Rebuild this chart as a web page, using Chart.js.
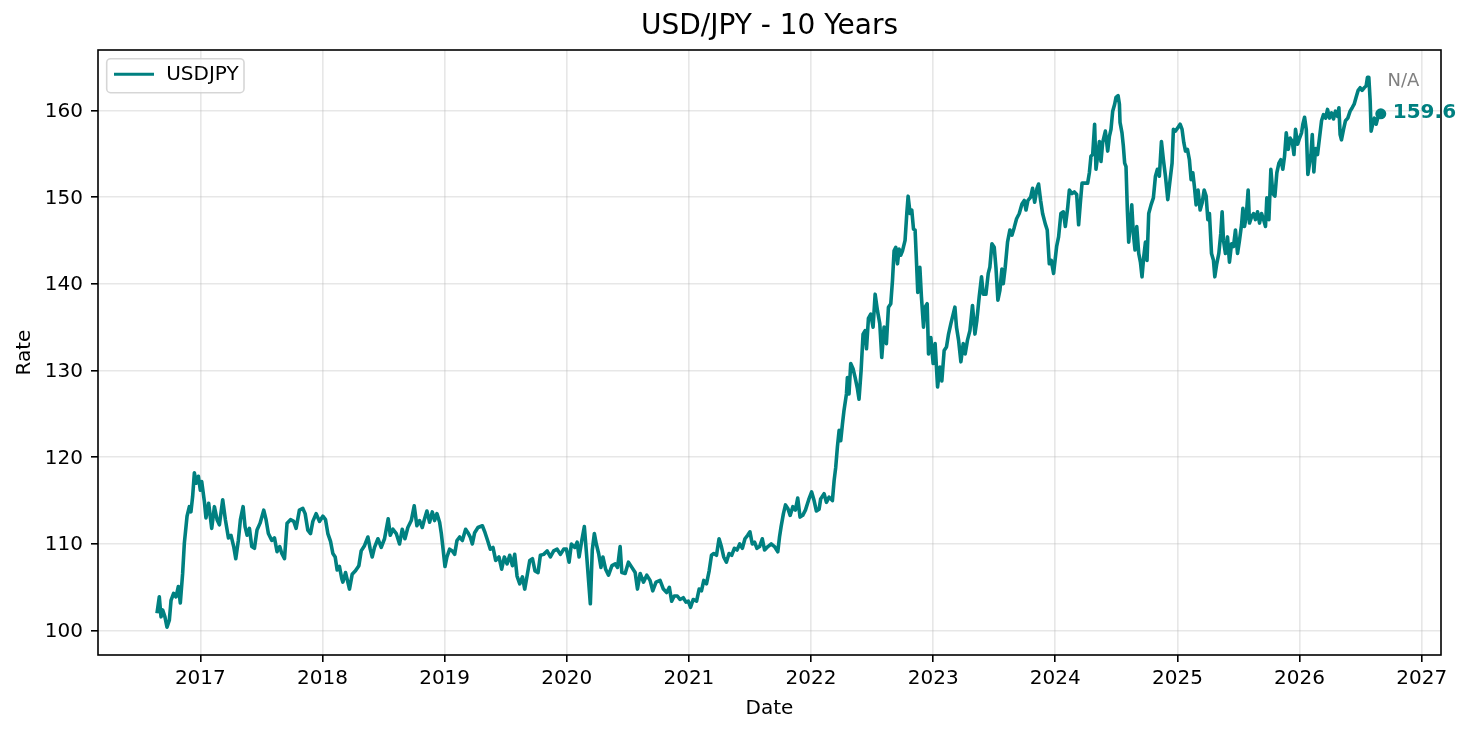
<!DOCTYPE html>
<html>
<head>
<meta charset="utf-8">
<title>USD/JPY - 10 Years</title>
<script src="https://cdn.jsdelivr.net/npm/chart.js@4.4.1/dist/chart.umd.min.js"></script>
<style>
  html, body { margin: 0; padding: 0; background: #fff; }
  #wrap { width: 1475px; height: 735px; }
</style>
</head>
<body>
<div id="wrap"><canvas id="chart" width="1475" height="735"></canvas></div>
<script>
// Rate samples (date as decimal year)
const dateYears = [
  2016.645, 2016.664, 2016.678, 2016.691, 2016.710, 2016.727, 2016.746, 2016.760, 2016.781, 2016.801,
  2016.820, 2016.836, 2016.855, 2016.869, 2016.891, 2016.910, 2016.923, 2016.937, 2016.951, 2016.967, 2016.984,
  2017.000, 2017.011, 2017.033, 2017.046, 2017.068, 2017.093, 2017.115, 2017.137, 2017.156, 2017.183,
  2017.205, 2017.230, 2017.251, 2017.273, 2017.290, 2017.311, 2017.328, 2017.350, 2017.366, 2017.383,
  2017.402, 2017.421, 2017.443, 2017.464, 2017.489, 2017.519, 2017.538, 2017.557, 2017.585, 2017.607,
  2017.628, 2017.650, 2017.667, 2017.689, 2017.710, 2017.738, 2017.765, 2017.784, 2017.811, 2017.839,
  2017.858, 2017.880, 2017.902, 2017.921, 2017.948, 2017.975,
  2018.003, 2018.025, 2018.044, 2018.066, 2018.085, 2018.104, 2018.120, 2018.139, 2018.158, 2018.167,
  2018.189, 2018.221, 2018.243, 2018.270, 2018.298, 2018.317, 2018.344, 2018.372, 2018.391, 2018.407,
  2018.426, 2018.454, 2018.481, 2018.508, 2018.538, 2018.555, 2018.577, 2018.604, 2018.631, 2018.653,
  2018.675, 2018.699, 2018.727, 2018.751, 2018.773, 2018.795, 2018.817, 2018.836, 2018.855, 2018.877,
  2018.899, 2018.918, 2018.937, 2018.959, 2018.973, 2018.986,
  2019.003, 2019.019, 2019.041, 2019.063, 2019.082, 2019.101, 2019.123, 2019.145, 2019.172, 2019.191,
  2019.210, 2019.227, 2019.246, 2019.273, 2019.309, 2019.331, 2019.352, 2019.374, 2019.396, 2019.418,
  2019.445, 2019.467, 2019.489, 2019.511, 2019.533, 2019.555, 2019.574, 2019.593, 2019.615, 2019.637,
  2019.656, 2019.675, 2019.697, 2019.719, 2019.740, 2019.765, 2019.784, 2019.811, 2019.839, 2019.866,
  2019.893, 2019.921, 2019.948, 2019.975, 2019.997,
  2020.019, 2020.038, 2020.066, 2020.085, 2020.101, 2020.123, 2020.144, 2020.166, 2020.193, 2020.209,
  2020.226, 2020.242, 2020.261, 2020.280, 2020.296, 2020.318, 2020.342, 2020.370, 2020.397, 2020.416,
  2020.437, 2020.451, 2020.478, 2020.505, 2020.533, 2020.560, 2020.579, 2020.601, 2020.628, 2020.655,
  2020.682, 2020.704, 2020.731, 2020.764, 2020.791, 2020.818, 2020.840, 2020.859, 2020.880, 2020.905,
  2020.927, 2020.954, 2020.976, 2020.995,
  2021.014, 2021.035, 2021.063, 2021.084, 2021.103, 2021.122, 2021.144, 2021.166, 2021.185, 2021.204,
  2021.226, 2021.247, 2021.266, 2021.285, 2021.307, 2021.329, 2021.351, 2021.372, 2021.394, 2021.416,
  2021.438, 2021.459, 2021.481, 2021.500, 2021.519, 2021.538, 2021.557, 2021.579, 2021.601, 2021.620,
  2021.647, 2021.674, 2021.701, 2021.728, 2021.742, 2021.755, 2021.774, 2021.791, 2021.810, 2021.829,
  2021.851, 2021.872, 2021.891, 2021.910, 2021.932, 2021.954, 2021.981,
  2022.005, 2022.025, 2022.044, 2022.066, 2022.079, 2022.107, 2022.126, 2022.148, 2022.175, 2022.189,
  2022.202, 2022.216, 2022.230, 2022.243, 2022.257, 2022.270, 2022.290, 2022.298, 2022.311, 2022.325,
  2022.344, 2022.361, 2022.380, 2022.393, 2022.410, 2022.426, 2022.443, 2022.454, 2022.470, 2022.489,
  2022.508, 2022.525, 2022.544, 2022.563, 2022.579, 2022.598, 2022.617, 2022.634, 2022.653, 2022.667,
  2022.680, 2022.694, 2022.708, 2022.721, 2022.735, 2022.749, 2022.770, 2022.784, 2022.795, 2022.811,
  2022.825, 2022.839, 2022.852, 2022.863, 2022.874, 2022.891, 2022.904, 2022.921, 2022.934, 2022.951,
  2022.962, 2022.981,
  2023.000, 2023.016, 2023.036, 2023.055, 2023.071, 2023.090, 2023.109, 2023.126, 2023.145, 2023.164,
  2023.178, 2023.191, 2023.208, 2023.227, 2023.246, 2023.262, 2023.281, 2023.301, 2023.322, 2023.342,
  2023.358, 2023.377, 2023.396, 2023.410, 2023.432, 2023.451, 2023.464, 2023.481, 2023.500, 2023.514,
  2023.530, 2023.546, 2023.563, 2023.574, 2023.590, 2023.609, 2023.628, 2023.645, 2023.664, 2023.683,
  2023.705, 2023.727, 2023.746, 2023.760, 2023.776, 2023.798, 2023.814, 2023.831, 2023.850, 2023.863,
  2023.880, 2023.896, 2023.918, 2023.934, 2023.951, 2023.967, 2023.986,
  2024.011, 2024.027, 2024.046, 2024.066, 2024.082, 2024.101, 2024.115, 2024.137, 2024.156, 2024.175,
  2024.191, 2024.205, 2024.219, 2024.246, 2024.265, 2024.279, 2024.292, 2024.306, 2024.322, 2024.333,
  2024.350, 2024.361, 2024.374, 2024.388, 2024.410, 2024.429, 2024.443, 2024.456, 2024.470, 2024.486,
  2024.497, 2024.514, 2024.525, 2024.530, 2024.546, 2024.557, 2024.568, 2024.579, 2024.590, 2024.601,
  2024.615, 2024.626, 2024.639, 2024.653, 2024.667, 2024.683, 2024.697, 2024.710, 2024.724, 2024.738,
  2024.751, 2024.765, 2024.784, 2024.803, 2024.820, 2024.836, 2024.852, 2024.869, 2024.885, 2024.902,
  2024.921, 2024.940, 2024.956, 2024.967, 2024.984,
  2025.003, 2025.022, 2025.038, 2025.052, 2025.066, 2025.082, 2025.098, 2025.112, 2025.126, 2025.139,
  2025.153, 2025.169, 2025.186, 2025.202, 2025.219, 2025.235, 2025.249, 2025.262, 2025.279, 2025.295,
  2025.306, 2025.322, 2025.339, 2025.355, 2025.366, 2025.377, 2025.393, 2025.410, 2025.426, 2025.443,
  2025.459, 2025.475, 2025.492, 2025.508, 2025.525, 2025.536, 2025.549, 2025.563, 2025.579, 2025.590,
  2025.607, 2025.623, 2025.639, 2025.656, 2025.672, 2025.689, 2025.705, 2025.721, 2025.732, 2025.749,
  2025.765, 2025.781, 2025.798, 2025.814, 2025.831, 2025.847, 2025.863, 2025.877, 2025.891, 2025.907,
  2025.923, 2025.940, 2025.954, 2025.967, 2025.984,
  2026.000, 2026.016, 2026.027, 2026.041, 2026.055, 2026.068, 2026.093, 2026.104, 2026.117, 2026.131,
  2026.147, 2026.163, 2026.180, 2026.196, 2026.213, 2026.229, 2026.245, 2026.262, 2026.278, 2026.294,
  2026.311, 2026.322, 2026.332, 2026.343, 2026.360, 2026.376, 2026.395, 2026.414, 2026.431, 2026.447,
  2026.463, 2026.480, 2026.496, 2026.512, 2026.529, 2026.545, 2026.556, 2026.567, 2026.578, 2026.586,
  2026.599, 2026.613, 2026.627, 2026.640, 2026.655, 2026.665
];

const rates = [
  102.0, 103.9, 101.6, 102.4, 101.6, 100.4, 101.2, 103.5, 104.3, 103.9,
  105.1, 103.2, 106.6, 110.1, 113.2, 114.3, 113.7, 115.5, 118.2, 117.0, 117.8,
  116.2, 117.2, 114.9, 113.0, 114.7, 111.8, 114.3, 112.8, 112.2, 115.1,
  112.8, 110.7, 111.0, 109.7, 108.3, 110.4, 112.8, 114.3, 112.0, 111.0,
  111.8, 109.7, 109.5, 111.6, 112.4, 113.9, 112.8, 111.2, 110.4, 110.7,
  109.1, 109.7, 108.9, 108.3, 112.4, 112.8, 112.6, 111.8, 113.9, 114.1,
  113.5, 111.6, 111.2, 112.6, 113.5, 112.6,
  113.2, 112.8, 111.2, 110.3, 108.9, 108.5, 107.0, 107.4, 106.0, 105.6,
  106.7, 104.8, 106.5, 106.9, 107.5, 109.2, 109.8, 110.8, 109.4, 108.5,
  109.6, 110.6, 109.6, 110.6, 112.9, 111.0, 111.7, 111.2, 110.0, 111.7,
  110.6, 111.9, 112.7, 114.4, 112.1, 112.7, 111.9, 112.9, 113.8, 112.5,
  113.7, 112.7, 113.5, 112.5, 111.2, 109.6,
  107.4, 108.5, 109.4, 109.2, 108.8, 110.4, 110.8, 110.4, 111.7, 111.3,
  110.8, 110.0, 111.3, 111.9, 112.1, 111.3, 110.4, 109.4, 109.6, 108.1,
  108.5, 107.1, 108.5, 107.7, 108.7, 107.5, 108.8, 106.3, 105.4, 106.2,
  104.8, 106.3, 108.1, 108.3, 106.9, 106.7, 108.7, 108.8, 109.2, 108.5,
  109.2, 109.4, 108.8, 109.4, 109.4,
  107.9, 110.0, 109.6, 110.2, 108.5, 110.4, 112.0, 108.1, 103.1, 109.3,
  111.2, 110.0, 108.9, 107.3, 108.5, 107.1, 106.4, 107.5, 107.7, 107.3,
  109.7, 106.7, 106.6, 107.9, 107.3, 106.7, 104.8, 106.6, 105.6, 106.4,
  105.8, 104.6, 105.6, 105.8, 104.8, 104.4, 105.0, 103.4, 104.0, 104.0,
  103.6, 103.8, 103.3, 103.4,
  102.7, 103.6, 103.4, 104.8, 104.6, 105.8, 105.4, 106.9, 108.7, 108.9,
  108.7, 110.6, 109.7, 108.5, 107.9, 108.9, 108.7, 109.5, 109.3, 110.0,
  109.5, 110.6, 111.0, 111.4, 110.0, 110.2, 109.5, 109.7, 110.6, 109.3,
  109.7, 110.0, 109.7, 109.1, 110.8, 112.0, 113.5, 114.5, 114.1, 113.3,
  114.3, 113.9, 115.3, 113.1, 113.3, 113.9, 115.1,
  116.0, 115.0, 113.8, 114.0, 115.2, 115.8, 114.8, 115.4, 115.0, 117.3,
  118.8, 121.2, 123.1, 121.9, 123.8, 125.4, 127.3, 129.2, 127.3, 130.8,
  130.2, 129.2, 127.9, 126.7, 130.0, 134.2, 134.6, 132.5, 136.0, 136.5,
  135.0, 138.8, 136.9, 135.4, 131.5, 135.0, 133.1, 137.3, 137.7, 140.4,
  143.8, 144.2, 142.3, 144.0, 143.3, 143.8, 145.0, 148.1, 150.1, 148.1,
  148.5, 146.3, 146.2, 142.7, 139.0, 141.9, 138.5, 135.0, 137.3, 137.7,
  131.9, 133.8,
  130.8, 133.1, 128.1, 130.4, 128.8, 132.3, 132.7, 134.2, 135.4, 136.5,
  137.3, 135.0, 133.5, 131.0, 133.1, 131.9, 133.5, 134.6, 137.5, 134.2,
  135.8, 138.5, 140.8, 138.8, 138.8, 141.2, 141.9, 144.6, 144.2, 141.9,
  138.1, 139.2, 141.7, 140.0, 141.9, 144.8, 146.2, 145.6, 146.5, 147.5,
  148.1, 149.2, 149.6, 148.5, 149.6, 150.0, 151.0, 149.4, 151.0, 151.5,
  149.6, 148.1, 146.9, 146.2, 142.3, 142.7, 141.2,
  144.3, 145.4, 148.1, 148.3, 146.6, 148.7, 150.8, 150.4, 150.6, 150.3,
  146.8, 149.3, 151.6, 151.6, 151.6, 152.8, 154.7, 154.9, 158.4, 153.2,
  155.1, 156.4, 154.1, 156.3, 157.6, 155.3, 157.0, 157.8, 159.9, 160.7,
  161.5, 161.7, 160.7, 158.6, 157.4, 155.9, 153.9, 153.5, 148.5, 144.8,
  147.0, 149.1, 145.8, 143.9, 146.6, 143.5, 142.5, 140.8, 143.1, 144.8,
  142.7, 148.1, 149.1, 149.9, 152.4, 153.2, 152.4, 156.4, 154.3, 152.4,
  149.7, 152.0, 153.9, 157.8, 157.6,
  158.0, 158.4, 157.8, 156.3, 155.3, 155.5, 154.3, 152.0, 152.8, 151.2,
  149.1, 150.8, 148.5, 149.3, 150.8, 150.1, 147.4, 148.1, 143.5, 142.7,
  140.8, 142.3, 143.5, 145.8, 148.3, 145.0, 143.5, 145.4, 142.5, 144.6,
  144.3, 146.2, 143.5, 145.0, 146.8, 148.7, 146.6, 147.7, 150.8, 147.0,
  147.7, 148.1, 147.4, 148.3, 147.0, 148.1, 147.4, 146.6, 149.9, 147.4,
  153.2, 150.4, 150.1, 152.8, 153.9, 154.3, 153.2, 154.7, 157.4, 155.5,
  156.8, 156.4, 154.9, 157.8, 156.1,
  156.8, 157.4, 158.4, 159.2, 157.8, 152.6, 154.9, 157.2, 152.9, 155.6,
  154.9, 156.8, 158.8, 159.5, 159.1, 160.1, 159.1, 159.7, 159.0, 159.9,
  159.3, 160.3, 157.2, 156.6, 157.8, 158.8, 159.1, 159.9, 160.3, 160.7,
  161.5, 162.3, 162.6, 162.3, 162.6, 162.8, 163.8, 163.8, 161.1, 157.6,
  158.4, 159.1, 158.4, 159.1, 159.3, 159.6
];

const yearTicks = [2017, 2018, 2019, 2020, 2021, 2022, 2023, 2024, 2025, 2026, 2027];
const rateTicks = [100, 110, 120, 130, 140, 150, 160];
const seriesName = 'USDJPY';
const changeNote = 'N/A';

const TEAL = '#008080';
const FONT = "'DejaVu Sans', 'Liberation Sans', sans-serif";
const GRID = 'rgba(176, 176, 176, 0.3)';

Chart.defaults.font.family = FONT;
Chart.defaults.color = '#000';

const points = dateYears.map((x, i) => ({ x: x, y: rates[i] }));
const lastIndex = points.length - 1;

// Legend box in the upper left corner of the plot
const legendBoxPlugin = {
  id: 'legendBox',
  beforeDatasetsDraw(chart) {
    const { ctx, chartArea: a } = chart;
    const ds = chart.data.datasets[0];
    const x0 = a.left + 8.7, y0 = a.top + 8.7;
    ctx.save();
    ctx.beginPath();
    ctx.roundRect(x0, y0, 137.3, 34, 4);
    ctx.fillStyle = 'rgba(255, 255, 255, 0.8)';
    ctx.fill();
    ctx.strokeStyle = 'rgba(204, 204, 204, 0.8)';
    ctx.lineWidth = 1.6;
    ctx.stroke();

    const cy = y0 + 15.5;
    ctx.beginPath();
    ctx.moveTo(x0 + 7.3, cy);
    ctx.lineTo(x0 + 47.3, cy);
    ctx.strokeStyle = ds.borderColor;
    ctx.lineWidth = 3;
    ctx.stroke();

    ctx.font = '20px ' + FONT;
    ctx.fillStyle = '#000';
    ctx.textAlign = 'left';
    ctx.textBaseline = 'middle';
    ctx.fillText(ds.label, x0 + 59.5, cy + 0.3);
    ctx.restore();
  }
};

// Four spines round the plot
const framePlugin = {
  id: 'frame',
  afterDraw(chart) {
    const { ctx, chartArea: a } = chart;
    ctx.save();
    ctx.strokeStyle = '#000';
    ctx.lineWidth = 1.6;
    ctx.strokeRect(a.left, a.top, a.right - a.left, a.bottom - a.top);
    ctx.restore();
  }
};

// Last value next to the end marker, and the change note above it
const lastValuePlugin = {
  id: 'lastValue',
  afterDatasetsDraw(chart) {
    const { ctx, chartArea: a } = chart;
    const pt = chart.getDatasetMeta(0).data[lastIndex];
    ctx.save();
    ctx.textAlign = 'left';
    ctx.textBaseline = 'middle';
    ctx.font = 'bold 20px ' + FONT;
    ctx.fillStyle = TEAL;
    ctx.fillText(rates[lastIndex].toFixed(1), pt.x + 12, pt.y - 1);
    ctx.font = '18px ' + FONT;
    ctx.fillStyle = '#808080';
    ctx.fillText(changeNote, a.right - 53.5, a.top + 31.5);
    ctx.restore();
  }
};

new Chart(document.getElementById('chart'), {
  type: 'line',
  data: {
    datasets: [{
      label: seriesName,
      data: points,
      borderColor: TEAL,
      backgroundColor: TEAL,
      borderWidth: 3.6,
      borderJoinStyle: 'round',
      tension: 0,
      fill: false,
      pointRadius: ctx => (ctx.dataIndex === lastIndex ? 5.5 : 0),
      pointBackgroundColor: TEAL,
      pointBorderWidth: 0,
      pointHoverRadius: 0
    }]
  },
  options: {
    responsive: false,
    animation: false,
    events: [],
    layout: { padding: { left: 0, right: 34, top: 0, bottom: 0 } },
    plugins: {
      title: {
        display: true,
        text: 'USD/JPY - 10 Years',
        color: '#000',
        fullSize: false,
        font: { size: 28, weight: 'normal', lineHeight: 1.2 },
        padding: { top: 9.5, bottom: 6.9 }
      },
      legend: { display: false },
      tooltip: { enabled: false }
    },
    scales: {
      x: {
        type: 'linear',
        min: 2016.162,
        max: 2027.158,
        afterBuildTicks: s => { s.ticks = yearTicks.map(v => ({ value: v })); },
        afterFit: s => { s.height = 80; },
        border: { display: false },
        grid: { color: GRID, lineWidth: 1.6, drawTicks: true, tickLength: 7, tickColor: '#000', tickWidth: 1.6 },
        ticks: { autoSkip: false, maxRotation: 0, padding: 5, color: '#000', font: { size: 20 }, callback: v => String(v) },
        title: { display: true, text: 'Date', color: '#000', font: { size: 20 }, padding: { top: 0, bottom: 14.7 } }
      },
      y: {
        type: 'linear',
        min: 97.198,
        max: 166.953,
        afterBuildTicks: s => { s.ticks = rateTicks.map(v => ({ value: v })); },
        afterFit: s => { s.width = 98; },
        border: { display: false },
        grid: { color: GRID, lineWidth: 1.6, drawTicks: true, tickLength: 7, tickColor: '#000', tickWidth: 1.6 },
        ticks: { padding: 8, labelOffset: 1.3, color: '#000', font: { size: 20 }, callback: v => String(v) },
        title: { display: true, text: 'Rate', color: '#000', font: { size: 20 }, padding: { top: 12.9, bottom: 0 } }
      }
    }
  },
  plugins: [legendBoxPlugin, lastValuePlugin, framePlugin]
});
</script>
</body>
</html>
